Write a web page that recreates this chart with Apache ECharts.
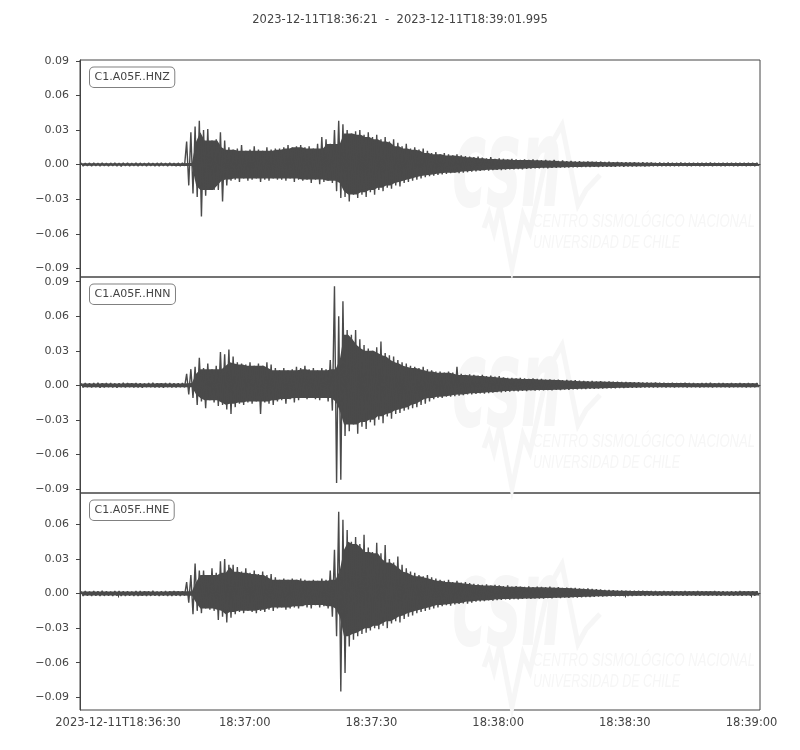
<!DOCTYPE html>
<html><head><meta charset="utf-8">
<script src="https://cdn.jsdelivr.net/npm/echarts@6/dist/echarts.min.js"></script>
<style>html,body{margin:0;padding:0;background:#fff}#chart{width:800px;height:750px}</style>
</head><body><div id="chart"></div>
<script>
// ---- data (1-second bins from 2023-12-11T18:36:21; per-bin max and min amplitude) ----
const titleText = '2023-12-11T18:36:21  -  2023-12-11T18:39:01.995';
const totalSeconds = 160.995;
const channels = ['C1.A05F..HNZ', 'C1.A05F..HNN', 'C1.A05F..HNE'];

const hnzMax = [0.0015,0.0012,0.0014,0.0016,0.0013,0.0015,0.0012,0.0014,0.0016,0.0013,0.0015,0.0014,0.0012,0.0016,0.0014,0.0013,0.0015,0.0012,0.0014,0.0016,0.0013,0.0015,0.0012,0.0014,0.0015,
0.020,0.028,0.033,0.038,0.030,0.031,0.021,0.022,0.028,0.021,0.015,
0.013,0.014,0.017,0.012,0.013,0.016,0.013,0.012,0.015,0.013,0.014,
0.014,0.015,0.017,0.015,0.016,0.017,0.015,0.016,0.014,0.018,0.024,0.022,0.018,
0.030,0.038,0.035,0.030,0.027,0.029,0.030,0.026,0.028,0.024,0.026,0.022,0.024,0.020,0.022,0.019,0.016,0.018,0.014,0.015,
0.013,0.014,0.012,0.010,0.011,0.009,0.010,0.009,0.008,0.009,0.008,0.0075,0.007,0.0065,0.007,0.006,0.0055,0.0065,0.005,0.0055,
0.005,0.0045,0.005,0.0045,0.004,0.0045,0.004,0.0045,0.004,0.0038,0.0042,0.0035,0.004,0.0033,0.0036,0.003,0.0032,0.0028,0.003,0.0026,
0.0028,0.0025,0.0024,0.0026,0.0022,0.0024,0.0021,0.0022,0.002,0.0021,0.0019,0.002,0.0018,0.0019,0.0017,0.0018,0.0016,0.0017,0.0015,0.0017,
0.0016,0.0015,0.0017,0.0016,0.0015,0.0016,0.0014,0.0016,0.0015,0.0017,0.0015,0.0014,0.0016,0.0015,0.0014,0.0016,0.0015,0.0014,0.0016,0.0015,0.0014];
const hnzMin = [-0.0012,-0.0010,-0.0013,-0.0011,-0.0012,-0.0010,-0.0013,-0.0011,-0.0012,-0.0014,-0.0010,-0.0012,-0.0011,-0.0013,-0.0010,-0.0012,-0.0011,-0.0013,-0.0012,-0.0010,-0.0012,-0.0011,-0.0013,-0.0012,-0.0011,
-0.018,-0.025,-0.028,-0.045,-0.027,-0.022,-0.022,-0.022,-0.032,-0.018,-0.014,
-0.013,-0.015,-0.012,-0.014,-0.013,-0.012,-0.015,-0.013,-0.014,-0.012,-0.013,
-0.013,-0.014,-0.012,-0.015,-0.013,-0.014,-0.013,-0.016,-0.013,-0.017,-0.015,-0.014,-0.016,
-0.023,-0.029,-0.028,-0.032,-0.026,-0.029,-0.026,-0.028,-0.024,-0.026,-0.022,-0.023,-0.020,-0.021,-0.018,-0.019,-0.016,-0.015,-0.014,-0.013,
-0.012,-0.011,-0.010,-0.0095,-0.009,-0.0085,-0.008,-0.0075,-0.007,-0.0075,-0.007,-0.0065,-0.006,-0.0058,-0.0055,-0.005,-0.0052,-0.0048,-0.0045,-0.0047,
-0.0044,-0.004,-0.0042,-0.0038,-0.004,-0.0036,-0.0035,-0.0033,-0.0032,-0.003,-0.0031,-0.0028,-0.0027,-0.0026,-0.0025,-0.0024,-0.0023,-0.0022,-0.0021,-0.002,
-0.0021,-0.0019,-0.002,-0.0018,-0.0019,-0.0017,-0.0018,-0.0016,-0.0017,-0.0015,-0.0016,-0.0015,-0.0014,-0.0015,-0.0014,-0.0013,-0.0014,-0.0012,-0.0013,-0.0012,
-0.0013,-0.0012,-0.0011,-0.0013,-0.0012,-0.0011,-0.0012,-0.0013,-0.0011,-0.0012,-0.0011,-0.0013,-0.0012,-0.0011,-0.0012,-0.0013,-0.0011,-0.0012,-0.0011,-0.0012,-0.0011];

const hnnMax = [0.0018,0.0020,0.0016,0.0019,0.0021,0.0017,0.0019,0.0020,0.0016,0.0018,0.0021,0.0019,0.0017,0.0020,0.0018,0.0016,0.0019,0.0021,0.0018,0.0017,0.0020,0.0019,0.0016,0.0018,0.0019,
0.010,0.014,0.016,0.024,0.015,0.019,0.014,0.017,0.029,0.027,0.031,
0.025,0.020,0.019,0.018,0.020,0.017,0.019,0.017,0.020,0.018,0.015,
0.013,0.015,0.013,0.014,0.016,0.015,0.017,0.014,0.015,0.013,0.015,0.014,0.022,
0.086,0.060,0.073,0.048,0.044,0.048,0.040,0.035,0.032,0.030,0.033,0.038,0.028,0.026,0.025,0.022,0.020,0.019,0.017,0.016,
0.015,0.016,0.014,0.013,0.012,0.012,0.011,0.012,0.011,0.016,0.010,0.009,0.0095,0.009,0.0085,0.009,0.008,0.0085,0.0075,0.008,
0.007,0.0065,0.0065,0.006,0.0065,0.006,0.0055,0.006,0.0055,0.0055,0.005,0.0052,0.0048,0.005,0.0045,0.0047,0.0042,0.0044,0.004,0.0038,
0.0036,0.0038,0.0034,0.0035,0.0032,0.0033,0.003,0.0031,0.0028,0.0029,0.0027,0.0026,0.0027,0.0025,0.0024,0.0022,0.0023,0.0021,0.0022,0.002,
0.0021,0.0019,0.002,0.0021,0.0019,0.002,0.0018,0.002,0.0019,0.0021,0.0018,0.0019,0.002,0.0018,0.0019,0.0017,0.0019,0.0018,0.002,0.0018,0.0019];
const hnnMin = [-0.0018,-0.0016,-0.0019,-0.0017,-0.0020,-0.0018,-0.0016,-0.0019,-0.0021,-0.0017,-0.0018,-0.0016,-0.0019,-0.0018,-0.0020,-0.0017,-0.0016,-0.0019,-0.0018,-0.0020,-0.0017,-0.0018,-0.0019,-0.0016,-0.0018,
-0.008,-0.011,-0.017,-0.014,-0.020,-0.013,-0.015,-0.018,-0.017,-0.021,-0.025,
-0.019,-0.016,-0.017,-0.015,-0.016,-0.014,-0.025,-0.015,-0.016,-0.017,-0.014,
-0.013,-0.016,-0.012,-0.015,-0.013,-0.011,-0.012,-0.011,-0.012,-0.013,-0.011,-0.014,-0.022,
-0.085,-0.082,-0.044,-0.040,-0.034,-0.042,-0.036,-0.038,-0.032,-0.035,-0.030,-0.033,-0.027,-0.029,-0.025,-0.024,-0.022,-0.021,-0.020,-0.019,
-0.017,-0.016,-0.014,-0.012,-0.011,-0.011,-0.010,-0.010,-0.0095,-0.009,-0.0085,-0.008,-0.008,-0.0075,-0.007,-0.0072,-0.0068,-0.0065,-0.006,-0.0062,
-0.0058,-0.0055,-0.005,-0.0052,-0.0048,-0.005,-0.0045,-0.0047,-0.0044,-0.0045,-0.0042,-0.0044,-0.004,-0.0041,-0.0038,-0.0039,-0.0036,-0.0035,-0.0033,-0.0032,
-0.003,-0.0031,-0.0029,-0.0028,-0.0027,-0.0026,-0.0025,-0.0024,-0.0023,-0.0022,-0.0022,-0.0021,-0.002,-0.002,-0.0019,-0.0018,-0.0019,-0.0017,-0.0018,-0.0017,
-0.0018,-0.0016,-0.0017,-0.0018,-0.0016,-0.0017,-0.0018,-0.0016,-0.0017,-0.0018,-0.0016,-0.0017,-0.0016,-0.0018,-0.0017,-0.0016,-0.0017,-0.0018,-0.0016,-0.0017,-0.0016];

const hneMax = [0.0020,0.0022,0.0018,0.0021,0.0019,0.0023,0.0020,0.0018,0.0021,0.0022,0.0019,0.0020,0.0018,0.0022,0.0021,0.0019,0.0020,0.0023,0.0018,0.0020,0.0021,0.0019,0.0022,0.0020,0.0019,
0.010,0.016,0.026,0.020,0.020,0.016,0.022,0.018,0.028,0.030,0.025,
0.025,0.023,0.019,0.022,0.018,0.020,0.017,0.019,0.016,0.017,0.014,
0.012,0.013,0.012,0.013,0.012,0.013,0.012,0.011,0.012,0.011,0.013,0.012,0.020,
0.038,0.071,0.064,0.055,0.045,0.049,0.043,0.051,0.040,0.036,0.044,0.035,0.042,0.030,0.027,0.032,0.025,0.022,0.019,0.018,
0.016,0.015,0.016,0.014,0.013,0.012,0.011,0.012,0.010,0.011,0.0095,0.010,0.009,0.0085,0.008,0.0075,0.008,0.007,0.0075,0.007,
0.0065,0.007,0.006,0.0065,0.006,0.0058,0.0062,0.0055,0.006,0.0058,0.0055,0.006,0.0052,0.0055,0.005,0.0052,0.0048,0.005,0.0045,0.0042,
0.0044,0.004,0.0038,0.0035,0.0032,0.003,0.0028,0.0027,0.0026,0.0025,0.0024,0.0024,0.0023,0.0023,0.0022,0.0021,0.0022,0.002,0.0021,0.002,
0.0021,0.0019,0.002,0.0021,0.002,0.0019,0.0021,0.002,0.0019,0.002,0.0021,0.0019,0.002,0.0018,0.002,0.0019,0.0021,0.0019,0.002,0.0019,0.002];
const hneMin = [-0.0020,-0.0018,-0.0022,-0.0019,-0.0021,-0.0020,-0.0018,-0.0022,-0.0019,-0.0020,-0.0021,-0.0018,-0.0020,-0.0022,-0.0019,-0.0021,-0.0020,-0.0018,-0.0022,-0.0019,-0.0020,-0.0021,-0.0018,-0.0020,-0.0019,
-0.008,-0.018,-0.015,-0.017,-0.013,-0.014,-0.015,-0.023,-0.020,-0.025,-0.021,
-0.018,-0.016,-0.017,-0.015,-0.016,-0.017,-0.015,-0.016,-0.014,-0.015,-0.013,
-0.012,-0.014,-0.013,-0.012,-0.013,-0.011,-0.012,-0.013,-0.010,-0.012,-0.011,-0.013,-0.020,
-0.037,-0.085,-0.069,-0.046,-0.040,-0.037,-0.035,-0.034,-0.032,-0.030,-0.031,-0.028,-0.030,-0.026,-0.024,-0.025,-0.022,-0.020,-0.019,-0.017,
-0.016,-0.015,-0.014,-0.013,-0.012,-0.011,-0.010,-0.0105,-0.0095,-0.009,-0.0085,-0.0088,-0.008,-0.007,-0.0068,-0.0065,-0.006,-0.0062,-0.0058,-0.0055,
-0.005,-0.0052,-0.0048,-0.005,-0.0046,-0.0045,-0.0047,-0.0043,-0.0045,-0.0044,-0.004,-0.0042,-0.0038,-0.004,-0.0036,-0.0038,-0.0034,-0.0035,-0.0032,-0.003,
-0.0031,-0.0028,-0.0027,-0.0025,-0.0024,-0.0023,-0.0023,-0.0022,-0.0022,-0.0021,-0.0021,-0.002,-0.002,-0.002,-0.0019,-0.0018,-0.0019,-0.0018,-0.0017,-0.0018,
-0.0019,-0.0017,-0.0018,-0.0019,-0.0017,-0.0018,-0.0019,-0.0017,-0.0018,-0.0017,-0.0019,-0.0018,-0.0017,-0.0018,-0.0019,-0.0017,-0.0018,-0.0017,-0.0019,-0.0018,-0.0017];

const yTickValues = [-0.09, -0.06, -0.03, 0.00, 0.03, 0.06, 0.09];
const yLimits = [[-0.0975, 0.0908], [-0.0936, 0.0941], [-0.1010, 0.0872]];
const xTickSeconds = [9, 39, 69, 99, 129, 159];
const xTickLabels = ['2023-12-11T18:36:30', '18:37:00', '18:37:30', '18:38:00', '18:38:30', '18:39:00'];

// ---- layout / style ----
const panelTops = [60, 277, 493];
const panelHeights = [217, 216, 217];
const gridLeft = 80, gridWidth = 680;
const ink = '#444444';
const waveColor = '#4a4a4a';
const font = 'DejaVu Sans';
const wmColor = '#f6f6f6';
const watermarkOffsets = [0, 220, 439];

const envelopes = [[hnzMax, hnzMin], [hnnMax, hnnMin], [hneMax, hneMin]];
function zigzag(maxArr, minArr) {
  const pts = [];
  for (let i = 0; i < maxArr.length; i++) {
    pts.push([i + 0.25, maxArr[i]]);
    pts.push([i + 0.75, minArr[i]]);
  }
  return pts;
}
// inner (local-minimum) envelope used as solid body; spikes are drawn by the zig-zag line
function innerBand(maxArr, minArr) {
  const n = maxArr.length, up = [], lo = [];
  for (let i = 0; i < n; i++) {
    let u = Infinity, l = -Infinity;
    for (let j = Math.max(0, i - 2); j <= Math.min(n - 1, i + 2); j++) {
      u = Math.min(u, maxArr[j]); l = Math.max(l, minArr[j]);
    }
    up.push([i + 0.5, u]);
    lo.push([i + 0.5, l]);
  }
  return { up, lo };
}
function fmtY(v) {
  const s = Math.abs(v).toFixed(2);
  return (v < -1e-9 ? '\u2212' : '') + s;
}
const mctx = document.createElement('canvas').getContext('2d');
function fitScale(text, f, target) { mctx.font = f; return target / mctx.measureText(text).width; }

const grids = [], xAxes = [], yAxes = [], series = [], graphics = [];
for (let k = 0; k < 3; k++) {
  grids.push({ left: gridLeft, width: gridWidth, top: panelTops[k], height: panelHeights[k],
    show: true, borderColor: ink, borderWidth: 1, backgroundColor: 'transparent' });
  const isBottom = k === 2;
  xAxes.push({ type: 'value', gridIndex: k, min: 0, max: totalSeconds,
    axisLine: { show: true, lineStyle: { color: ink } },
    axisTick: { show: isBottom, length: 4, lineStyle: { color: ink }, customValues: xTickSeconds },
    axisLabel: { show: isBottom, customValues: xTickSeconds, color: ink, fontFamily: font, fontSize: 11.5, margin: 7,
      formatter: v => { const i = xTickSeconds.indexOf(Math.round(v)); return i >= 0 ? xTickLabels[i] : ''; } },
    splitLine: { show: false } });
  const lim = yLimits[k];
  const ticks = yTickValues.filter(v => v >= lim[0] - 1e-9 && v <= lim[1] + 1e-9);
  yAxes.push({ type: 'value', gridIndex: k, min: lim[0], max: lim[1],
    axisLine: { show: true, lineStyle: { color: ink } },
    axisTick: { show: true, length: 4, lineStyle: { color: ink }, customValues: ticks },
    axisLabel: { show: true, customValues: ticks, color: ink, fontFamily: font, fontSize: 11, margin: 11, formatter: fmtY },
    splitLine: { show: false } });

  const band = innerBand(envelopes[k][0], envelopes[k][1]);
  series.push({ type: 'custom', xAxisIndex: k, yAxisIndex: k, data: [[0, 0]], clip: true, z: 4, silent: true,
    animation: false,
    renderItem: (params, api) => {
      const pts = band.up.map(p => api.coord(p)).concat(band.lo.slice().reverse().map(p => api.coord(p)));
      return { type: 'polygon', shape: { points: pts }, style: { fill: waveColor } };
    } });
  series.push({ type: 'line', xAxisIndex: k, yAxisIndex: k, data: zigzag(envelopes[k][0], envelopes[k][1]),
    showSymbol: false, symbol: 'none', sampling: null, animation: false, z: 5, silent: true,
    lineStyle: { color: waveColor, width: 1.4 } });

  // faint CSN watermark
  const dy = watermarkOffsets[k];
  graphics.push({ type: 'polyline', z: 1, silent: true,
    shape: { points: [[484,228+dy],[489,214+dy],[494,232+dy],[500,205+dy],[512,268+dy],[523,215+dy],[530,232+dy],[548,150+dy],[562,125+dy],[578,205+dy],[586,190+dy],[600,175+dy]] },
    style: { stroke: wmColor, lineWidth: 5, fill: null } });
  const csnFont = 'italic bold 125px "DejaVu Sans"';
  graphics.push({ type: 'text', z: 1, silent: true, x: 452, y: 174 + dy, scaleX: fitScale('csn', csnFont, 110),
    style: { text: 'csn', fill: wmColor, font: csnFont, verticalAlign: 'middle' } });
  const wmFont = 'italic 19px "Liberation Sans"';
  graphics.push({ type: 'text', z: 1, silent: true, x: 533, y: 222 + dy, scaleX: fitScale('CENTRO SISMOLÓGICO NACIONAL', wmFont, 222),
    style: { text: 'CENTRO SISMOLÓGICO NACIONAL', fill: wmColor, font: wmFont, verticalAlign: 'middle' } });
  graphics.push({ type: 'text', z: 1, silent: true, x: 533, y: 243 + dy, scaleX: fitScale('UNIVERSIDAD DE CHILE', wmFont, 147),
    style: { text: 'UNIVERSIDAD DE CHILE', fill: wmColor, font: wmFont, verticalAlign: 'middle' } });

  // channel label box
  graphics.push({ type: 'text', z: 10, x: 90, y: panelTops[k] + 7.5,
    style: { text: channels[k], fill: ink, font: '11px "DejaVu Sans"',
      backgroundColor: '#ffffff', borderColor: '#808080', borderWidth: 1, borderRadius: 4,
      padding: [3.5, 4.5, 3, 4.5], lineHeight: 13 } });
}
graphics.push({ type: 'text', z: 10, x: 400, y: 20,
  style: { text: titleText, fill: ink, font: '11.5px "DejaVu Sans"', textAlign: 'center', textVerticalAlign: 'middle' } });

const chart = echarts.init(document.getElementById('chart'), null, { renderer: 'canvas' });
chart.setOption({
  animation: false,
  backgroundColor: '#ffffff',
  textStyle: { fontFamily: font },
  grid: grids, xAxis: xAxes, yAxis: yAxes, series: series, graphic: graphics
});
</script></body></html>
